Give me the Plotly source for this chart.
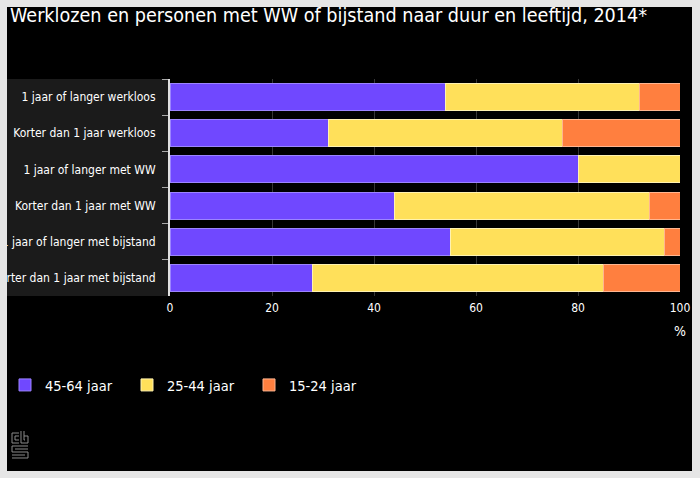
import plotly.graph_objects as go

categories = [
    "1 jaar of langer werkloos",
    "Korter dan 1 jaar werkloos",
    "1 jaar of langer met WW",
    "Korter dan 1 jaar met WW",
    "1 jaar of langer met bijstand",
    "Korter dan 1 jaar met bijstand",
]
age_45_64 = [54, 31, 80, 44, 55, 28]
age_25_44 = [38, 46, 20, 50, 42, 57]
age_15_24 = [8, 23, 0, 6, 3, 15]
series_names = ["45-64 jaar", "25-44 jaar", "15-24 jaar"]
colors = ["#7048ff", "#ffe05a", "#ff7f3f"]
edge_colors = ["#9c84ff", "#fff2b0", "#ffb590"]
x_ticks = [0, 20, 40, 60, 80, 100]

W, H = 700, 478
ML, MR, MT, MB = 170, 20, 79, 182
PW, PH = W - ML - MR, H - MT - MB

def px(x):
    return (x - ML) / PW

def py(y):
    return (H - MB - y) / PH

font = "DejaVu Sans Condensed, DejaVu Sans, sans-serif"
border = "#e6e6e6"

fig = go.Figure()
for name, vals, c, ec in zip(series_names, [age_45_64, age_25_44, age_15_24], colors, edge_colors):
    fig.add_trace(go.Bar(
        y=categories, x=vals, name=name, orientation="h",
        marker=dict(color=c, line=dict(color=ec, width=1)),
    ))

shapes = [
    dict(type="rect", xref="paper", yref="paper", layer="below",
         x0=px(7), x1=px(170), y0=py(296), y1=py(79),
         fillcolor="#1b1b1b", line=dict(width=0)),
    # light border around the black panel (drawn above so labels get clipped)
    dict(type="rect", xref="paper", yref="paper", layer="above",
         x0=px(-2), x1=px(7), y0=py(480), y1=py(-2), fillcolor=border, line=dict(width=0)),
    dict(type="rect", xref="paper", yref="paper", layer="above",
         x0=px(692), x1=px(702), y0=py(480), y1=py(-2), fillcolor=border, line=dict(width=0)),
    dict(type="rect", xref="paper", yref="paper", layer="above",
         x0=px(-2), x1=px(702), y0=py(7), y1=py(-2), fillcolor=border, line=dict(width=0)),
    dict(type="rect", xref="paper", yref="paper", layer="above",
         x0=px(-2), x1=px(702), y0=py(480), y1=py(471), fillcolor=border, line=dict(width=0)),
]

# small logo approximation
def path(points):
    return "M" + " L".join(f"{px(a):.5f},{py(b):.5f}" for a, b in points)

logo_paths = [
    [(19, 433), (12, 433), (12, 443), (19, 443)],
    [(19, 436), (15, 436), (15, 440), (19, 440)],
    [(21, 431), (21, 443), (28, 443), (28, 436), (24, 436)],
    [(24, 431), (24, 440), (25, 440)],
    [(28, 446), (12, 446), (12, 452), (28, 452), (28, 458), (12, 458)],
    [(28, 449), (15, 449), (15, 449)],
    [(12, 455), (25, 455)],
]
for p in logo_paths:
    shapes.append(dict(type="path", xref="paper", yref="paper", path=path(p),
                       line=dict(color="#8a8a8a", width=1)))

fig.update_layout(
    width=W, height=H,
    margin=dict(l=ML, r=MR, t=MT, b=MB, pad=0, autoexpand=False),
    paper_bgcolor="#000000",
    plot_bgcolor="#000000",
    barmode="stack",
    bargap=0.25,
    font=dict(family=font, color="#ffffff", size=12),
    title=dict(text="Werklozen en personen met WW of bijstand naar duur en leeftijd, 2014*",
               x=10 / W, xref="container", xanchor="left", y=1 - 8 / H, yref="container",
               yanchor="top", pad=dict(t=0, b=0, l=0, r=0),
               font=dict(size=19.6, color="#ffffff", family=font)),
    xaxis=dict(range=[0, 100], tickvals=x_ticks, showgrid=True, gridcolor="#363636",
               gridwidth=1, zeroline=False, showline=False, ticks="",
               tickfont=dict(size=12, color="#ffffff"), ticklabelstandoff=3,
               fixedrange=True, automargin=False),
    yaxis=dict(autorange="reversed", showline=True, linecolor="#e0e0e0", linewidth=2,
               ticks="outside", tickson="boundaries", ticklen=6, tickcolor="#aaaaaa",
               tickfont=dict(size=12, color="#ffffff"), ticklabelstandoff=10,
               showgrid=False, fixedrange=True, automargin=False),
    legend=dict(orientation="h", x=px(5), xanchor="left", y=py(385), yanchor="middle",
                font=dict(size=14.5, color="#ffffff"), bgcolor="rgba(0,0,0,0)",
                entrywidth=77, entrywidthmode="pixels", traceorder="normal"),
    shapes=shapes,
    annotations=[dict(text="%", xref="paper", yref="paper", x=px(688), y=py(331),
                      xanchor="right", yanchor="middle", showarrow=False,
                      font=dict(size=14, color="#ffffff"))],
)

fig.write_html(
    "out.html",
    config={"displayModeBar": False},
    post_script="document.body.style.margin='0';document.body.style.background='#e6e6e6';",
)
